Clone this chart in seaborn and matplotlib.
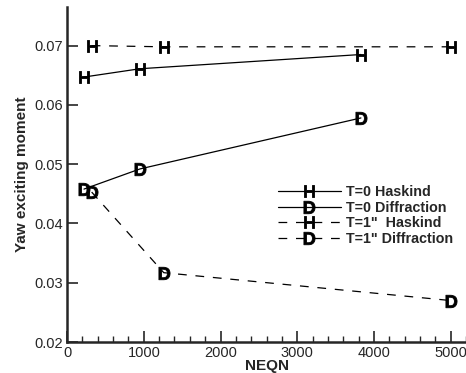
import pandas as pd
import numpy as np
import matplotlib.pyplot as plt
import seaborn as sns
from matplotlib.ticker import MultipleLocator

# data
neqn_t0 = [220, 950, 3830]
haskind_t0 = [0.0647, 0.0661, 0.0685]
diffraction_t0 = [0.0458, 0.0492, 0.0578]

neqn_t1 = [320, 1260, 5000]
haskind_t1 = [0.0700, 0.0698, 0.0698]
diffraction_t1 = [0.0453, 0.0317, 0.0270]

labels = ['T=0 Haskind', 'T=0 Diffraction', 'T=1"  Haskind', 'T=1" Diffraction']

sns.set_style('ticks')
plt.rcParams['font.family'] = ['Liberation Sans', 'DejaVu Sans']
plt.rcParams['mathtext.fontset'] = 'custom'
plt.rcParams['mathtext.bf'] = 'Liberation Sans:bold'
plt.rcParams['mathtext.rm'] = 'Liberation Sans:bold'

fig = plt.figure(figsize=(4.66, 3.73), dpi=100)
ax = fig.add_axes([0.144, 0.083, 0.856, 0.898])

series = [
    (neqn_t0, haskind_t0, r'$\mathbf{H}$', '-'),
    (neqn_t0, diffraction_t0, r'$\mathbf{D}$', '-'),
    (neqn_t1, haskind_t1, r'$\mathbf{H}$', (0, (7, 7))),
    (neqn_t1, diffraction_t1, r'$\mathbf{D}$', (0, (7, 7))),
]
for (x, y, mk, ls), lab in zip(series, labels):
    df = pd.DataFrame({'NEQN': x, 'val': y})
    sns.lineplot(x='NEQN', y='val', data=df, ax=ax, color='black',
                 linewidth=0.9, linestyle=ls, marker=mk, markersize=9,
                 markeredgewidth=0.6, markeredgecolor='black',
                 markerfacecolor='black', label=lab)

ax.set_xlim(0, 5200)
ax.set_ylim(0.02, 0.0765)
ax.set_xticks([0, 1000, 2000, 3000, 4000, 5000])
ax.set_yticks([0.02, 0.03, 0.04, 0.05, 0.06, 0.07])
ax.set_yticklabels(['0.02', '0.03', '0.04', '0.05', '0.06', '0.07'])
ax.xaxis.set_minor_locator(MultipleLocator(200))
ax.tick_params(axis='both', which='major', direction='in', length=8,
               width=1.2, labelsize=10.5, pad=3)
ax.tick_params(axis='x', which='minor', direction='in', length=4, width=1)
for s in ['top', 'right']:
    ax.spines[s].set_visible(False)
for s in ['left', 'bottom']:
    ax.spines[s].set_linewidth(1.8)

ax.set_xlabel('NEQN', fontsize=11, fontweight='bold', labelpad=-1)
ax.set_ylabel('Yaw exciting moment', fontsize=11, fontweight='bold', labelpad=4)

ax.legend(loc='upper left', bbox_to_anchor=(0.51, 0.49), frameon=False,
          handlelength=4.4, handletextpad=0.35,
          labelspacing=0.12, borderpad=0, prop={'weight': 'bold', 'size': 10.3})

fig.savefig('out.png', dpi=100)
